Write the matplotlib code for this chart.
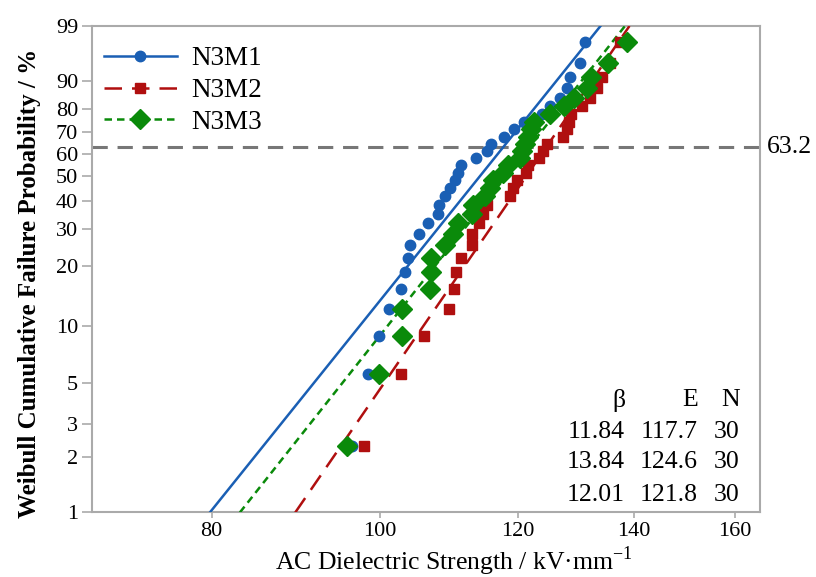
import matplotlib
matplotlib.use("Agg")
import matplotlib.pyplot as plt
import numpy as np
from matplotlib.ticker import FixedLocator, FixedFormatter, NullLocator

plt.rcParams.update({
    "font.family": ["Liberation Serif", "DejaVu Serif"],
    "mathtext.fontset": "custom",
    "mathtext.rm": "Liberation Serif",
    "font.size": 16,
})

# plotting positions (%) shared by the three 30-sample series
PROB_PCT = [2.30, 5.59, 8.88, 12.17, 15.46, 18.75, 22.04, 25.33, 28.62, 31.91,
            35.20, 38.49, 41.78, 45.07, 48.36, 51.64, 54.93, 58.22, 61.51, 64.80,
            68.09, 71.38, 74.67, 77.96, 81.25, 84.54, 87.83, 91.12, 94.41, 97.70]

# breakdown strengths, kV/mm (sorted)
N3M1 = [96.3, 98.4, 99.8, 101.2, 102.8, 103.3, 103.7, 104.0, 105.3, 106.6,
        107.9, 108.1, 109.0, 109.7, 110.4, 110.8, 111.3, 113.6, 115.2, 115.8,
        117.8, 119.4, 121.0, 123.9, 125.2, 126.9, 128.1, 128.6, 130.3, 131.2]
N3M2 = [97.9, 102.8, 106.0, 109.5, 110.3, 110.6, 111.3, 112.9, 112.9, 114.0,
        114.6, 115.2, 118.8, 119.2, 119.8, 121.3, 121.7, 123.5, 124.1, 124.7,
        127.4, 128.1, 128.4, 128.8, 130.6, 132.0, 133.2, 134.2, 135.6, 137.4]
N3M3 = [95.7, 99.9, 102.9, 103.0, 106.8, 106.9, 107.0, 109.0, 110.2, 110.9,
        113.0, 113.1, 114.9, 115.7, 116.2, 117.7, 118.5, 120.3, 120.6, 121.1,
        121.7, 122.2, 122.6, 125.2, 127.6, 129.3, 131.6, 132.2, 135.3, 138.6]

NAMES = ["N3M1", "N3M2", "N3M3"]
BETA = [11.84, 13.84, 12.01]
ETA = [117.7, 124.6, 121.8]
COUNT = [30, 30, 30]

X_TICKS = [80, 100, 120, 140, 160]
Y_TICKS = [1, 2, 3, 5, 10, 20, 30, 40, 50, 60, 70, 80, 90, 99]

COLORS = ["#1a5fb4", "#b00f0f", "#0a8a0a"]
MARKERS = ["o", "s", "D"]
MSIZE = [7.5, 7, 10]
LSTYLE = ["-", (0, (7, 4)), (0, (3, 2))]


def fwd(p):
    p = np.clip(np.asarray(p, dtype=float), 1e-6, 100 - 1e-6)
    return np.log(-np.log(1 - p / 100.0))


def inv(w):
    return 100.0 * (1 - np.exp(-np.exp(w)))


fig = plt.figure(figsize=(8.16, 5.77), dpi=100)
ax = fig.add_axes([0.1127, 0.1118, 0.8187, 0.8432])
ax.set_xscale("log")
ax.set_yscale("function", functions=(fwd, inv))

pfit = np.linspace(1, 99, 300)
for data, name, b, e, c, m, ms, ls in zip([N3M1, N3M2, N3M3], NAMES, BETA, ETA,
                                          COLORS, MARKERS, MSIZE, LSTYLE):
    xfit = e * (-np.log(1 - pfit / 100.0)) ** (1.0 / b)
    ax.plot(xfit, pfit, color=c, lw=1.8, ls=ls, zorder=3)
    ax.plot(data, PROB_PCT, ls="none", marker=m, ms=ms, color=c, zorder=4)
    ax.plot([], [], color=c, lw=1.8, ls=ls, marker=m, ms=ms, label=name)

ax.axhline(63.2, color="#777777", lw=2.2, ls=(0, (5, 3.2)), zorder=2)
ax.text(1.011, 63.2, "63.2", transform=ax.get_yaxis_transform(),
        ha="left", va="center", fontsize=18.5)

ax.set_xlim(68.27, 165.4)
ax.set_ylim(1, 99)
ax.xaxis.set_major_locator(FixedLocator(X_TICKS))
ax.xaxis.set_major_formatter(FixedFormatter([str(t) for t in X_TICKS]))
ax.xaxis.set_minor_locator(NullLocator())
ax.yaxis.set_major_locator(FixedLocator(Y_TICKS))
ax.yaxis.set_major_formatter(FixedFormatter([str(t) for t in Y_TICKS]))
ax.yaxis.set_minor_locator(NullLocator())

for s in ax.spines.values():
    s.set_color("#aaaaaa")
    s.set_linewidth(1.5)
ax.tick_params(direction="out", width=1.2, color="#aaaaaa", labelsize=16)
ax.tick_params(axis="x", length=4, pad=3)
ax.tick_params(axis="y", length=7, pad=3)

ax.set_xlabel("AC Dielectric Strength / kV·mm$^{-1}$", fontsize=18.5)
ax.xaxis.label.set_va("center")
ax.xaxis.set_label_coords(0.542, -0.101)
ax.set_ylabel("Weibull Cumulative Failure Probability / %", fontsize=18,
              fontweight="bold")
ax.yaxis.set_label_coords(-0.076, 0.47)

leg = ax.legend(loc="upper left", bbox_to_anchor=(-0.013, 1.0), frameon=False,
                handlelength=2.7, fontsize=19.5, borderaxespad=0.45,
                borderpad=0.3, labelspacing=0.25, handletextpad=0.55)

# parameter table, lower right
col_x = [0.798, 0.907, 0.970]
row_y = [0.231, 0.165, 0.104, 0.036]
heads = ["β", "E", "N"]
for cx, h in zip(col_x, heads):
    ax.text(cx, row_y[0], h, transform=ax.transAxes, ha="right", va="center",
            fontsize=18.5)
for ry, b, e, n in zip(row_y[1:], BETA, ETA, COUNT):
    for cx, v in zip(col_x, [f"{b:.2f}", f"{e:.1f}", f"{n}"]):
        ax.text(cx, ry, v, transform=ax.transAxes, ha="right", va="center",
                fontsize=18.5)

fig.savefig("out.png", dpi=100)
